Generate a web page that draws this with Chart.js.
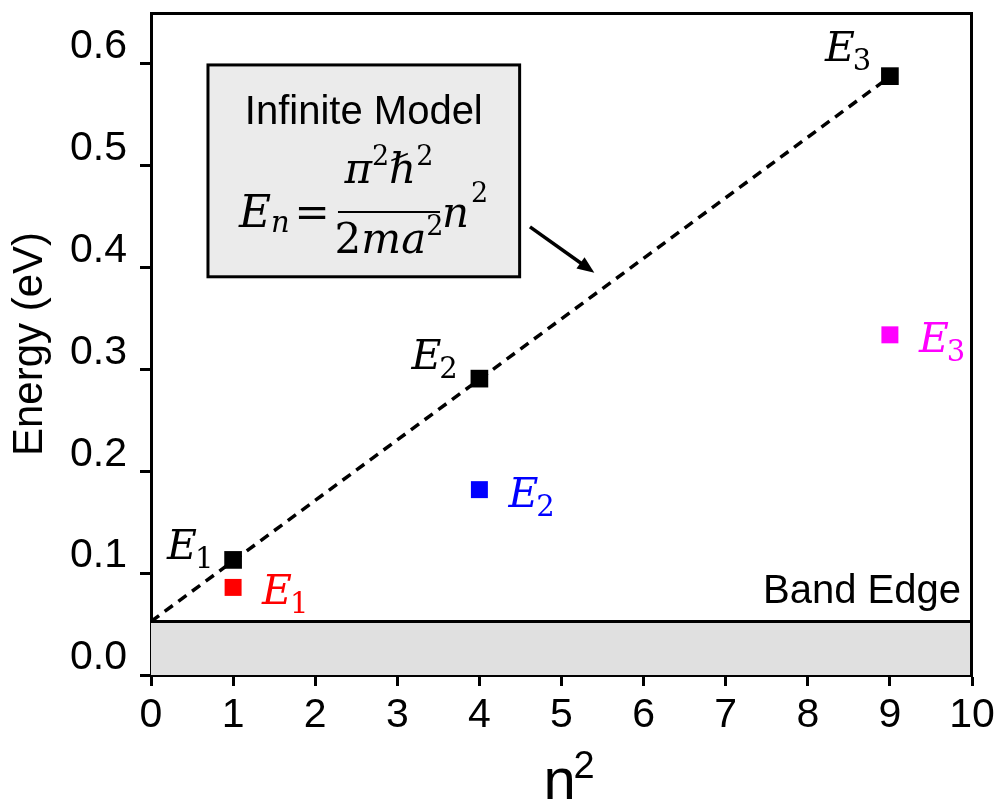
<!DOCTYPE html>
<html>
<head>
<meta charset="utf-8">
<title>Energy levels vs n²</title>
<script src="https://cdn.jsdelivr.net/npm/chart.js@4.4.1/dist/chart.umd.min.js"></script>
<style>
  html, body { margin: 0; padding: 0; background: #ffffff; }
  #wrap { width: 998px; height: 802px; }
</style>
</head>
<body>
<div id="wrap"><canvas id="chart" width="998" height="802"></canvas></div>
<script>
// Quantum number squared for the first three levels
const levelN2 = [1, 4, 9];
const levelIndex = ['1', '2', '3'];
// Infinite-well model energies (eV)
const infiniteEnergy = [0.113, 0.291, 0.588];
// Finite-well energies (eV) and their colours
const finiteEnergy = [0.086, 0.182, 0.334];
const finiteColors = ['#ff0000', '#0000ff', '#ff00ff'];
// Dashed model line, E ∝ n², drawn from the band edge
const modelN2 = [0, 9];
const modelEnergy = [0.0525, 0.5875];
// Band edge level (eV) across the full n² range
const bandN2 = [0, 10];
const bandEnergy = [0.0525, 0.0525];
// Axis ticks
const xTickValues = [0, 1, 2, 3, 4, 5, 6, 7, 8, 9, 10];
const yTickValues = [0, 0.1, 0.2, 0.3, 0.4, 0.5, 0.6];

const SANS = '"Liberation Sans", Arial, Helvetica, sans-serif';
const SERIF = '"DejaVu Serif", "Liberation Serif", serif';

const pts = (xs, ys) => xs.map((v, i) => ({ x: v, y: ys[i] }));

// Draws an italic E with an upright subscript
function drawE(ctx, x, y, sub, color, size) {
  ctx.fillStyle = color;
  ctx.textAlign = 'left';
  ctx.textBaseline = 'alphabetic';
  ctx.font = 'italic ' + size + 'px ' + SERIF;
  ctx.fillText('E', x, y);
  const w = ctx.measureText('E').width;
  ctx.font = Math.round(size * 0.7) + 'px ' + SERIF;
  ctx.fillText(sub, x + w - 2, y + 9);
}

const annotate = {
  id: 'annotate',
  afterDraw(chart) {
    const { ctx, chartArea: a } = chart;
    const sx = chart.scales.x, sy = chart.scales.y;
    const X = v => sx.getPixelForValue(v);
    const Y = v => sy.getPixelForValue(v);
    ctx.save();

    // frame: top and right edges of the plot
    ctx.strokeStyle = '#000';
    ctx.lineWidth = 3;
    ctx.beginPath();
    ctx.moveTo(a.left, a.top + 0.5);
    ctx.lineTo(a.right - 0.5, a.top + 0.5);
    ctx.lineTo(a.right - 0.5, a.bottom);
    ctx.stroke();

    // level labels
    const blackOffsets = [[-66, -1], [-68, -10], [-65, -15]];
    levelN2.forEach((n, i) => {
      drawE(ctx, X(n) + blackOffsets[i][0], Y(infiniteEnergy[i]) + blackOffsets[i][1], levelIndex[i], '#000', 41);
      drawE(ctx, X(n) + 29, Y(finiteEnergy[i]) + 17, levelIndex[i], finiteColors[i], 41);
    });

    // band edge caption
    ctx.fillStyle = '#000';
    ctx.font = '40px ' + SANS;
    ctx.textAlign = 'right';
    ctx.textBaseline = 'alphabetic';
    ctx.fillText('Band Edge', a.right - 11, Y(bandEnergy[0]) - 19);

    // model box
    const bx0 = X(0.694), bx1 = X(4.49), by0 = Y(0.599), by1 = Y(0.391);
    ctx.fillStyle = '#ebebeb';
    ctx.fillRect(bx0, by0, bx1 - bx0, by1 - by0);
    ctx.strokeStyle = '#000';
    ctx.lineWidth = 3;
    ctx.strokeRect(bx0, by0, bx1 - bx0, by1 - by0);

    ctx.fillStyle = '#000';
    ctx.font = '40px ' + SANS;
    ctx.textAlign = 'center';
    ctx.fillText('Infinite Model', (bx0 + bx1) / 2, by0 + 59);

    // formula E_n = π²ℏ² / (2ma²) n²
    const base = by0 + 162;
    ctx.textAlign = 'left';
    ctx.font = 'italic 44px ' + SERIF;
    ctx.fillText('E', bx0 + 31, base);
    ctx.font = 'italic 29px ' + SERIF;
    ctx.fillText('n', bx0 + 63, base + 5);
    ctx.font = '42px ' + SERIF;
    ctx.textAlign = 'center';
    ctx.fillText('=', bx0 + 104, base);

    const fc = bx0 + 181;
    const numParts = [['π', 'italic 42px ', 0], ['2', '27px ', -18], ['ℏ', 'italic 42px ', 0], ['2', '27px ', -18]];
    const denParts = [['2', '42px ', 0], ['m', 'italic 42px ', 0], ['a', 'italic 42px ', 0], ['2', '27px ', -18]];
    const drawRun = (parts, cx, by) => {
      let tot = 0;
      parts.forEach(p => { ctx.font = p[1] + SERIF; tot += ctx.measureText(p[0]).width; });
      let cur = cx - tot / 2;
      ctx.textAlign = 'left';
      parts.forEach(p => { ctx.font = p[1] + SERIF; ctx.fillText(p[0], cur, by + p[2]); cur += ctx.measureText(p[0]).width; });
    };
    drawRun(numParts, fc, by0 + 118);
    drawRun(denParts, fc, by0 + 188);
    ctx.lineWidth = 2;
    ctx.beginPath();
    ctx.moveTo(fc - 51, by0 + 147);
    ctx.lineTo(fc + 51, by0 + 147);
    ctx.stroke();
    ctx.textAlign = 'left';
    ctx.font = 'italic 42px ' + SERIF;
    ctx.fillText('n', bx0 + 234, base);
    const nw = ctx.measureText('n').width;
    ctx.font = '27px ' + SERIF;
    ctx.fillText('2', bx0 + 234 + nw + 2, base - 25);

    // arrow from the box to the model line
    const ax0 = X(4.616), ay0 = Y(0.440), ax1 = X(5.40), ay1 = Y(0.395);
    const ang = Math.atan2(ay1 - ay0, ax1 - ax0);
    ctx.lineWidth = 3.5;
    ctx.beginPath();
    ctx.moveTo(ax0, ay0);
    ctx.lineTo(ax1 - 12 * Math.cos(ang), ay1 - 12 * Math.sin(ang));
    ctx.stroke();
    ctx.beginPath();
    ctx.moveTo(ax1, ay1);
    ctx.lineTo(ax1 - 17 * Math.cos(ang) + 7 * Math.sin(ang), ay1 - 17 * Math.sin(ang) - 7 * Math.cos(ang));
    ctx.lineTo(ax1 - 17 * Math.cos(ang) - 7 * Math.sin(ang), ay1 - 17 * Math.sin(ang) + 7 * Math.cos(ang));
    ctx.closePath();
    ctx.fill();

    // x-axis title n²
    const cx = (a.left + a.right) / 2;
    ctx.font = '58px ' + SANS;
    ctx.fillText('n', cx - 18, 799);
    ctx.font = '38px ' + SANS;
    ctx.fillText('2', cx + 12, 778);

    ctx.restore();
  }
};

new Chart(document.getElementById('chart'), {
  type: 'scatter',
  data: {
    datasets: [
      {
        label: 'Infinite model',
        data: pts(levelN2, infiniteEnergy),
        pointStyle: 'rect',
        pointRadius: 12.5,
        pointHoverRadius: 12.5,
        backgroundColor: '#000000',
        borderWidth: 0,
        order: 1
      },
      {
        label: 'Finite well',
        data: pts(levelN2, finiteEnergy),
        pointStyle: 'rect',
        pointRadius: 12,
        pointHoverRadius: 12,
        backgroundColor: finiteColors,
        borderWidth: 0,
        order: 2
      },
      {
        type: 'line',
        label: 'E ∝ n²',
        data: pts(modelN2, modelEnergy),
        borderColor: '#000000',
        borderWidth: 3.5,
        borderDash: [10, 7],
        pointRadius: 0,
        fill: false,
        order: 3
      },
      {
        type: 'line',
        label: 'Band Edge',
        data: pts(bandN2, bandEnergy),
        borderColor: '#000000',
        borderWidth: 3,
        backgroundColor: '#e0e0e0',
        pointRadius: 0,
        fill: 'origin',
        order: 4
      }
    ]
  },
  options: {
    responsive: false,
    animation: false,
    devicePixelRatio: 1,
    layout: { padding: { top: 13, right: 26, left: 0, bottom: 0 } },
    plugins: {
      legend: { display: false },
      tooltip: { enabled: false }
    },
    scales: {
      x: {
        type: 'linear',
        min: 0,
        max: 10,
        afterBuildTicks: s => { s.ticks = xTickValues.map(v => ({ value: v })); },
        afterFit: s => { s.height = 127; s.paddingLeft = 0; s.paddingRight = 0; },
        ticks: {
          color: '#000',
          font: { family: SANS, size: 41 },
          padding: 5,
          maxRotation: 0,
          autoSkip: false,
          callback: v => String(v)
        },
        grid: { drawOnChartArea: false, drawTicks: true, tickLength: 11, tickWidth: 3, tickColor: '#000' },
        border: { display: true, color: '#000', width: 3 }
      },
      y: {
        type: 'linear',
        min: 0,
        max: 0.65,
        afterBuildTicks: s => { s.ticks = yTickValues.map(v => ({ value: v })); },
        afterFit: s => { s.width = 151; s.paddingTop = 0; s.paddingBottom = 0; },
        ticks: {
          color: '#000',
          font: { family: SANS, size: 41 },
          padding: 13,
          labelOffset: -17,
          autoSkip: false,
          callback: v => v.toFixed(1)
        },
        title: {
          display: true,
          text: 'Energy (eV)',
          color: '#000',
          font: { family: SANS, size: 42 },
          padding: { top: 5, bottom: 0 }
        },
        grid: { drawOnChartArea: false, drawTicks: true, tickLength: 11, tickWidth: 3, tickColor: '#000' },
        border: { display: true, color: '#000', width: 3 }
      }
    }
  },
  plugins: [annotate]
});
</script>
</body>
</html>
